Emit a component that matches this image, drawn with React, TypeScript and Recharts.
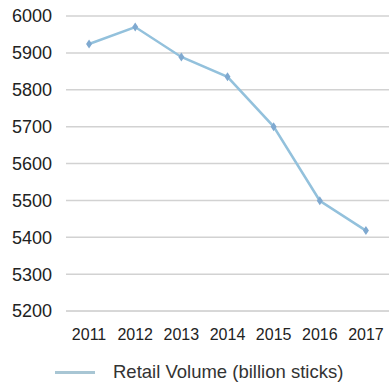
import { LineChart, Line, XAxis, YAxis, CartesianGrid, Legend } from "recharts"

const years = ["2011", "2012", "2013", "2014", "2015", "2016", "2017"]
const volume = [5924, 5970, 5889, 5835, 5700, 5499, 5418]
const yTicks = [5200, 5300, 5400, 5500, 5600, 5700, 5800, 5900, 6000]

const data = years.map((y, i) => ({ year: y, volume: volume[i] }))

const LINE = "#93c1dc"
const DOT = "#7fa9d0"
const GRID = "#d2d2d2"
const FONT = "'Liberation Sans', Arial, sans-serif"

function Diamond(props: any) {
    const { cx, cy } = props
    if (cx == null || cy == null) return null
    return <path d={`M${cx},${cy - 4.5} L${cx + 3},${cy} L${cx},${cy + 4.5} L${cx - 3},${cy} Z`} fill={DOT} />
}

function LegendBox() {
    return (
        <div style={{ position: "relative", height: 44, width: 389, fontFamily: FONT }}>
            <div style={{ position: "absolute", left: 55, top: 30, width: 40, height: 3, background: "#a8c6d4" }} />
            <div style={{ position: "absolute", left: 113, top: 21, fontSize: 18.5, color: "#333", whiteSpace: "nowrap", lineHeight: "20px" }}>
                Retail Volume (billion sticks)
            </div>
        </div>
    )
}

export default function App() {
    return (
        <div style={{ position: "absolute", left: 0, top: 0, background: "#fff" }}>
            <LineChart width={389} height={385} data={data} margin={{ top: 16, right: 0, left: 0, bottom: 0 }}>
                <CartesianGrid vertical={false} stroke={GRID} strokeWidth={1.5} />
                <XAxis
                    dataKey="year"
                    scale="band"
                    height={30}
                    stroke={GRID}
                    tickLine={false}
                    tickMargin={12}
                    tick={{ fill: "#222", fontSize: 16, fontFamily: FONT }}
                    interval={0}
                />
                <YAxis
                    width={66}
                    domain={[5200, 6000]}
                    ticks={yTicks}
                    axisLine={false}
                    tickLine={false}
                    tickMargin={8}
                    tick={{ fill: "#222", fontSize: 18, fontFamily: FONT }}
                />
                <Legend verticalAlign="bottom" content={() => <LegendBox />} />
                <Line
                    type="linear"
                    dataKey="volume"
                    stroke={LINE}
                    strokeWidth={2.5}
                    dot={<Diamond />}
                    activeDot={false}
                    isAnimationActive={false}
                />
            </LineChart>
        </div>
    )
}
